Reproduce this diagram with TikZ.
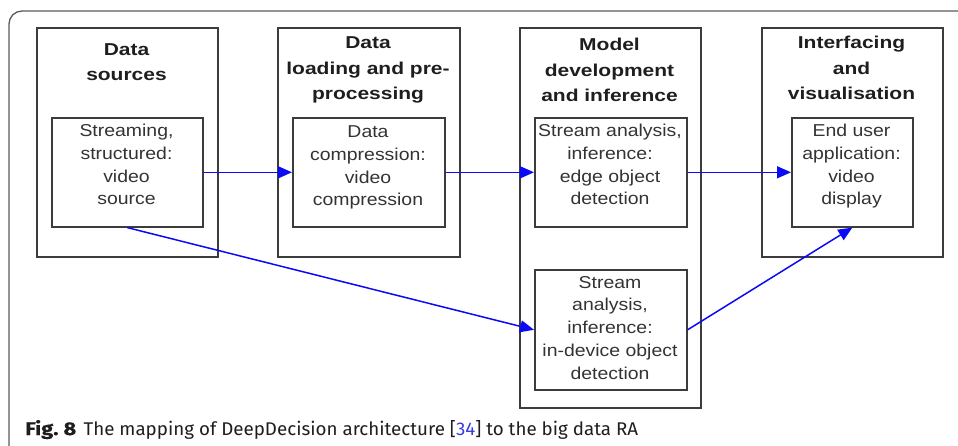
\documentclass[tikz,border=0pt]{standalone}
\usepackage{fontspec}
\setmainfont{Liberation Sans}
\newfontfamily\headfont[FakeStretch=1.22]{Liberation Sans}
\newfontfamily\boxfont[FakeStretch=1.13]{Liberation Sans}
\newfontfamily\capfont[FakeStretch=1.02]{Fira Sans}
\newfontfamily\caplabel[FakeStretch=1.18,FakeBold=0.6]{Fira Sans}
\usetikzlibrary{arrows.meta}
\definecolor{edgegray}{HTML}{3C3C3C}
\definecolor{flowblue}{HTML}{0A0AF5}
\definecolor{citeblue}{HTML}{3A3AE0}
\definecolor{framegray}{HTML}{5A5A5A}
\definecolor{inktext}{HTML}{1E1E1E}
\definecolor{boxtext}{HTML}{333333}

\begin{document}
\begin{tikzpicture}[x=1pt,y=-1pt,
  stage/.style={draw=edgegray,line width=1.6pt,inner sep=0pt,anchor=north west},
  task/.style={draw=edgegray,line width=1.6pt,inner sep=0pt,anchor=north west},
  heading/.style={anchor=base,align=center,inner sep=0pt,text=inktext,
    font=\headfont\bfseries\fontsize{17.2}{25.5}\selectfont},
  tasktext/.style={anchor=base,align=center,inner sep=0pt,text=boxtext,
    font=\boxfont\fontsize{17.2}{22.7}\selectfont},
  flow/.style={draw=flowblue,line width=1.5pt,-{Triangle[length=14pt,width=12pt]}}
]
\useasboundingbox (0,0) rectangle (958,446);
\clip (0,0) rectangle (958,446);

% outer figure frame (only its top-left part is visible)
\draw[framegray,line width=1.3pt,rounded corners=13pt] (9,11) rectangle (985,480);

% stage columns
\node[stage,minimum width=181pt,minimum height=229pt] (s1) at (36,27) {};
\node[stage,minimum width=182pt,minimum height=229pt] (s2) at (277,27) {};
\node[stage,minimum width=181pt,minimum height=380pt] (s3) at (519,27) {};
\node[stage,minimum width=181pt,minimum height=229pt] (s4) at (761,27) {};

% stage headings (placed by the baseline of their last line)
\node[heading] (h1) at (126.5,81) {Data\\sources};
\node[heading] (h2) at (368,100) {Data\\loading and pre-\\processing};
\node[heading] (h3) at (609.5,102) {Model\\development\\and inference};
\node[heading] (h4) at (851.5,100) {Interfacing\\and\\visualisation};

% task boxes
\node[task,minimum width=151pt,minimum height=109pt] (b1) at (51,117) {};
\node[task,minimum width=152pt,minimum height=109pt] (b2) at (292,117) {};
\node[task,minimum width=152pt,minimum height=109pt] (b3) at (534,117) {};
\node[task,minimum width=121pt,minimum height=109pt] (b4) at (791,117) {};
\node[task,minimum width=152pt,minimum height=120pt] (b5) at (534,269) {};

% task texts (placed by the baseline of their last line)
\node[tasktext] (x1) at (126.5,205) {Streaming,\\structured:\\video\\source};
\node[tasktext] (x2) at (368,206) {Data\\compression:\\video\\compression};
\node[tasktext] (x3) at (610,205) {Stream analysis,\\inference:\\edge object\\detection};
\node[tasktext] (x4) at (851.5,205) {End user\\application:\\video\\display};
\node[tasktext] (x5) at (610,379) {Stream\\analysis,\\inference:\\in-device object\\detection};

% data flow
\draw[flow] (b1.east) -- (b2.west);
\draw[flow] (b2.east) -- (b3.west);
\draw[flow] (b3.east) -- (b4.west);
\draw[flow] (b1.south) -- (b5.west);
\draw[flow] (b5.east) -- (b4.south);

% caption
\node[anchor=base west,inner sep=0pt,text=inktext,
  font=\capfont\fontsize{18.4}{22}\selectfont] (cap) at (25,435)
  {{\caplabel\bfseries Fig.\ 8}\hspace{0.4em}The mapping of DeepDecision architecture [\textcolor{citeblue}{34}] to the big data RA};
\end{tikzpicture}
\end{document}
